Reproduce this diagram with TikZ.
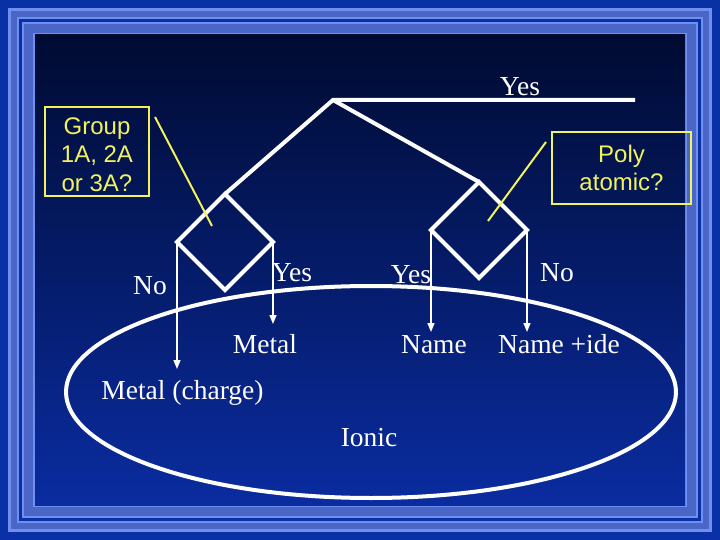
\documentclass[tikz,border=0pt]{standalone}
\usepackage{fontspec}
\setmainfont{Liberation Serif}
\newfontfamily\calloutfont{Liberation Sans}
\usetikzlibrary{shapes.geometric,arrows.meta}
\definecolor{outerblue}{HTML}{0A30A6}
\definecolor{bandlight}{HTML}{7090F0}
\definecolor{bandmid}{HTML}{4A66C6}
\definecolor{innertop}{HTML}{000B32}
\definecolor{innerbot}{HTML}{0A2CA0}
\definecolor{callout}{HTML}{F2F25C}
\begin{document}
\begin{tikzpicture}[x=1pt,y=-1pt,
  thickline/.style={white, line width=4pt, line join=miter},
  decision/.style={diamond, draw=white, line width=4pt, minimum width=96pt, minimum height=96pt, inner sep=0pt, outer sep=0pt},
  region/.style={ellipse, draw=white, line width=4pt, minimum width=610pt, minimum height=212pt, inner sep=0pt, outer sep=0pt},
  lbl/.style={text=white, font=\fontsize{27.5}{30}\selectfont, anchor=base, inner sep=0pt},
  flow/.style={white, line width=1.5pt, -{Triangle[length=9pt,width=7pt]}},
  callbox/.style={draw=callout, line width=2pt, text=callout, font=\calloutfont\fontsize{24}{28.5}\selectfont, align=center, inner sep=0pt},
  pointer/.style={callout, line width=2pt}]
\useasboundingbox (0,0) rectangle (720,540);
% frame
\fill[outerblue] (0,0) rectangle (720,540);
\fill[bandlight] (8,8) rectangle (712,532);
\fill[bandmid] (11,11) rectangle (709,529);
\fill[bandlight] (17,17) rectangle (703,523);
\fill[outerblue] (19,19) rectangle (701,521);
\fill[bandlight] (22,22) rectangle (698,518);
\fill[bandmid] (24,24) rectangle (696,516);
\fill[bandlight] (33,33) rectangle (687,507);
\shade[top color=innertop, bottom color=innerbot] (35,35) rectangle (685,505);
% ionic region
\node[region] (ionic) at (371,392) {};
% decisions
\node[decision] (dl) at (225,242) {};
\node[decision] (dr) at (479,230) {};
\coordinate (apex) at (333,100);
\coordinate (yesend) at (635,100);
\draw[thickline] (dl.north) -- (apex) -- (yesend);
\draw[thickline] (apex) -- (dr.north);
% labels
\node[lbl] (yestop) at (520,96) {Yes};
\node[lbl] (noleft) at (150,294) {No};
\node[lbl] (yesl) at (292,281) {Yes};
\node[lbl] (yesr) at (411,283) {Yes};
\node[lbl] (nor) at (557,281) {No};
\node[lbl] (metal) at (265,353) {Metal};
\node[lbl] (name) at (434,353) {Name};
\node[lbl] (nameide) at (559,353) {Name +ide};
\node[lbl] (charge) at (182.5,399) {Metal (charge)};
\node[lbl] (ioniclbl) at (369,446) {Ionic};
% arrows
\coordinate (e1) at (177,369);
\coordinate (e2) at (273,324);
\coordinate (e3) at (431,332);
\coordinate (e4) at (527,332);
\draw[flow] (dl.west) -- (dl.west |- e1);
\draw[flow] (dl.east) -- (dl.east |- e2);
\draw[flow] (dr.west) -- (dr.west |- e3);
\draw[flow] (dr.east) -- (dr.east |- e4);
% callouts
\node[callbox, minimum width=104pt, minimum height=89pt] (groupq) at (97,151.5) {\rule{0pt}{23pt}Group\\1A, 2A\\or 3A?};
\node[callbox, minimum width=139pt, minimum height=72pt] (polyq) at (621.5,168) {Poly\\atomic?};
\coordinate (g1) at (155,117);
\coordinate (g2) at (212,226);
\draw[pointer] (g1) -- (g2);
\coordinate (p1) at (546,142);
\coordinate (p2) at (488,221);
\draw[pointer] (p1) -- (p2);
\end{tikzpicture}
\end{document}
